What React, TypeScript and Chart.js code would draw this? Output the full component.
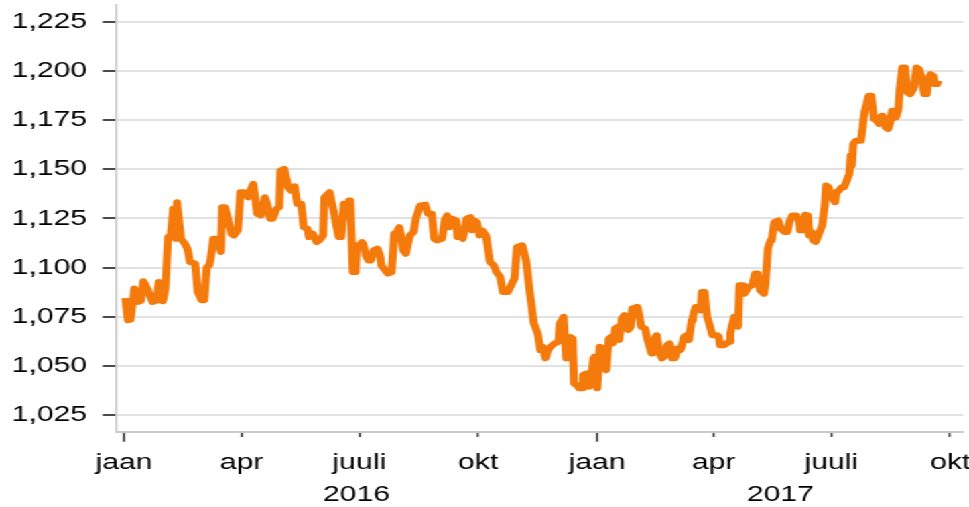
import React, { useEffect, useRef } from 'react';
import { Chart, registerables } from 'chart.js';

Chart.register(...registerables);

// Days since 2016-01-01 and EUR/USD rate
const DAYS = [
  1, 3, 5, 8, 11, 13, 15, 18, 22, 25, 27, 30, 32, 34, 36, 38, 40, 41, 44, 47,
  49, 51, 55, 57, 60, 62, 64, 66, 67, 69, 71, 75, 76, 78, 81, 83, 85, 88, 90, 93,
  96, 97, 100, 101, 103, 106, 109, 111, 113, 115, 118, 120, 121, 124, 127, 129, 132, 134, 137, 139,
  142, 143, 146, 149, 151, 154, 155, 159, 162, 164, 166, 168, 170, 172, 174, 175, 177, 179, 180, 182,
  184, 185, 187, 189, 191, 193, 196, 198, 199, 202, 204, 207, 209, 210, 213, 216, 218, 221, 224, 226,
  229, 233, 235, 238, 240, 242, 246, 248, 250, 252, 254, 257, 258, 260, 262, 265, 268, 269, 271, 273,
  275, 277, 280, 283, 286, 288, 291, 293, 297, 300, 302, 304, 308, 311, 314, 315, 317, 320, 322, 324,
  326, 328, 330, 333, 336, 337, 340, 342, 344, 345, 347, 348, 350, 352, 354, 355, 358, 360, 361, 363,
  364, 366, 368, 371, 373, 375, 377, 378, 380, 382, 383, 385, 387, 389, 390, 392, 393, 397, 398, 400,
  403, 405, 408, 409, 411, 412, 414, 416, 418, 420, 422, 424, 426, 428, 430, 431, 433, 435, 437, 439,
  440, 442, 444, 446, 447, 449, 451, 453, 455, 459, 460, 461, 464, 466, 468, 469, 470, 472, 475, 476,
  479, 480, 483, 486, 488, 490, 492, 495, 496, 498, 500, 501, 503, 506, 508, 511, 513, 515, 517, 520,
  522, 523, 526, 527, 529, 530, 532, 533, 535, 537, 539, 540, 542, 543, 545, 546, 549, 550, 551, 553,
  555, 557, 559, 561, 562, 563, 564, 566, 570, 572, 573, 576, 578, 580, 582, 584, 586, 587, 589, 591,
  593, 594, 596, 597, 599, 600, 602, 604, 606, 608, 609, 611, 613, 615, 617, 619, 621, 622, 624, 626,
  627, 629, 630,
];

const RATES = [
  1.0845, 1.0732, 1.0735, 1.0893, 1.0825, 1.083, 1.093, 1.0893, 1.0825, 1.083, 1.0926, 1.0828, 1.0893, 1.1155, 1.1155, 1.1299, 1.1146, 1.1332, 1.1146, 1.1121,
  1.1096, 1.1028, 1.102, 1.0876, 1.0834, 1.0834, 1.1, 1.1011, 1.1045, 1.1146, 1.1146, 1.1079, 1.1307, 1.1307, 1.1231, 1.1172, 1.1163, 1.1189, 1.1383, 1.1383,
  1.1357, 1.1383, 1.1425, 1.1425, 1.1273, 1.1265, 1.1357, 1.1315, 1.1248, 1.1248, 1.1299, 1.1307, 1.1493, 1.1501, 1.1408, 1.1391, 1.1413, 1.1324, 1.1324, 1.1205,
  1.1197, 1.1155, 1.1172, 1.1129, 1.1138, 1.1163, 1.1357, 1.1383, 1.129, 1.1222, 1.1155, 1.1155, 1.1324, 1.1256, 1.1341, 1.1341, 1.0977, 1.0977, 1.1113, 1.1104,
  1.1129, 1.1121, 1.1062, 1.1036, 1.1036, 1.1087, 1.1096, 1.1062, 1.1011, 1.0986, 1.0969, 1.0977, 1.1172, 1.1172, 1.1205, 1.1087, 1.107, 1.1163, 1.118, 1.1256,
  1.1315, 1.132, 1.1273, 1.1273, 1.1146, 1.1138, 1.1146, 1.1239, 1.1265, 1.1205, 1.1248, 1.1239, 1.1155, 1.1163, 1.1146, 1.1248, 1.1256, 1.1189, 1.1239, 1.123,
  1.1163, 1.1189, 1.1163, 1.1028, 1.1011, 1.0977, 1.0952, 1.0876, 1.0876, 1.0918, 1.0943, 1.1104, 1.1113, 1.1036, 1.0867, 1.0817, 1.0715, 1.0665, 1.058, 1.0597,
  1.0538, 1.058, 1.0597, 1.0614, 1.0622, 1.0715, 1.0749, 1.0538, 1.0538, 1.0647, 1.0639, 1.0411, 1.0403, 1.0386, 1.0386, 1.0453, 1.0462, 1.0394, 1.0403, 1.0538,
  1.0547, 1.0386, 1.0597, 1.0588, 1.0478, 1.0639, 1.0647, 1.0614, 1.069, 1.0699, 1.0631, 1.0741, 1.0758, 1.0741, 1.0682, 1.0699, 1.0792, 1.08, 1.0775, 1.0699,
  1.069, 1.0631, 1.0563, 1.0563, 1.0647, 1.0656, 1.0571, 1.0538, 1.0547, 1.0605, 1.0614, 1.0538, 1.0538, 1.0588, 1.058, 1.0588, 1.0647, 1.0656, 1.0631, 1.0732,
  1.0749, 1.0799, 1.08, 1.0782, 1.0876, 1.0876, 1.0749, 1.0707, 1.0656, 1.0656, 1.0647, 1.0605, 1.0605, 1.0614, 1.0622, 1.0665, 1.0699, 1.0749, 1.0699, 1.091,
  1.091, 1.0867, 1.0901, 1.091, 1.0969, 1.0969, 1.0884, 1.0867, 1.091, 1.1096, 1.1138, 1.1138, 1.1231, 1.1239, 1.1197, 1.118, 1.118, 1.1239, 1.1265, 1.1265,
  1.1239, 1.1189, 1.1189, 1.1268, 1.1265, 1.1163, 1.118, 1.1138, 1.113, 1.1163, 1.1197, 1.1214, 1.1315, 1.1417, 1.1408, 1.1375, 1.1341, 1.1332, 1.1383, 1.1391,
  1.1408, 1.1408, 1.1442, 1.1476, 1.1569, 1.1518, 1.1628, 1.1645, 1.1645, 1.1755, 1.1797, 1.1873, 1.1873, 1.1755, 1.1747, 1.173, 1.1772, 1.1772, 1.1713, 1.1704,
  1.1747, 1.1797, 1.1797, 1.1763, 1.1806, 1.1907, 1.2017, 1.2017, 1.189, 1.1882, 1.189, 1.1915, 1.2017, 1.2008, 1.1958, 1.1882, 1.1882, 1.1958, 1.1983, 1.1975,
  1.1933, 1.1933, 1.195,
];

// Axis ticks (days since 2016-01-01)
const MONTH_TICK_DAYS = [0, 91, 182, 274, 366, 456, 547, 639];
const MONTH_LABELS = ['jaan', 'apr', 'juuli', 'okt', 'jaan', 'apr', 'juuli', 'okt'];
const YEAR_LABELS = ['2016', '2017'];
const YEAR_BOUNDARY_DAYS = [366];
const Y_TICKS = [1.025, 1.05, 1.075, 1.1, 1.125, 1.15, 1.175, 1.2, 1.225];

const X_MIN = -6.2;
const X_MAX = 649.1;
const Y_MIN = 1.0165;
const Y_MAX = 1.2335;

const CANVAS_W = 723;
const CANVAS_H = 507;
const STRETCH = 969 / CANVAS_W;

const FONT = { family: "'Liberation Sans', Arial, Helvetica, sans-serif", size: 22.5 };
const TEXT_COLOR = '#000000';
const LINE_COLOR = '#f47a0b';

export default function App() {
  const canvasRef = useRef<HTMLCanvasElement | null>(null);

  useEffect(() => {
    if (!canvasRef.current) return;
    const points = DAYS.map((d, i) => ({ x: d, y: RATES[i] }));
    const bounds = [X_MIN, ...YEAR_BOUNDARY_DAYS, X_MAX];
    const yearCenters = YEAR_LABELS.map((_, i) => (bounds[i] + bounds[i + 1]) / 2);

    const chart = new Chart(canvasRef.current, {
      type: 'line',
      data: {
        datasets: [
          {
            data: points,
            borderColor: LINE_COLOR,
            borderWidth: 6,
            borderJoinStyle: 'round',
            pointRadius: 0,
            tension: 0,
            fill: false,
            xAxisID: 'x',
            yAxisID: 'y',
          },
        ],
      },
      options: {
        responsive: true,
        maintainAspectRatio: false,
        animation: false,
        layout: { padding: { left: 10, right: 4.3, top: 5, bottom: 0 } },
        plugins: { legend: { display: false }, tooltip: { enabled: false } },
        scales: {
          x: {
            type: 'linear',
            position: 'bottom',
            weight: 0,
            min: X_MIN,
            max: X_MAX,
            afterBuildTicks: (s: any) => {
              s.ticks = MONTH_TICK_DAYS.map((v) => ({ value: v }));
            },
            afterFit: (s: any) => {
              s.paddingLeft = 0;
              s.paddingRight = 0;
              s.height = 43.9;
            },
            ticks: {
              autoSkip: false,
              maxRotation: 0,
              minRotation: 0,
              padding: 7.3,
              color: TEXT_COLOR,
              font: FONT,
              callback: (_v: any, i: number) => MONTH_LABELS[i],
            },
            grid: {
              display: true,
              drawOnChartArea: false,
              drawTicks: true,
              tickLength: 10,
              tickWidth: 1.5,
              tickColor: '#333333',
              tickBorderDash: (ctx: any) => (ctx.index % 4 === 0 ? [] : [4, 40]),
            },
            border: { display: true, color: '#cacaca', width: 2 },
          },
          xYear: {
            type: 'linear',
            position: 'bottom',
            weight: 1,
            min: X_MIN,
            max: X_MAX,
            afterBuildTicks: (s: any) => {
              s.ticks = yearCenters.map((v) => ({ value: v }));
            },
            afterFit: (s: any) => {
              s.paddingLeft = 0;
              s.paddingRight = 0;
              s.height = 31.4;
            },
            ticks: {
              autoSkip: false,
              maxRotation: 0,
              minRotation: 0,
              padding: 5.4,
              color: TEXT_COLOR,
              font: FONT,
              callback: (_v: any, i: number) => YEAR_LABELS[i],
            },
            grid: { display: false, drawTicks: false },
            border: { display: false },
          },
          y: {
            type: 'linear',
            position: 'left',
            min: Y_MIN,
            max: Y_MAX,
            afterBuildTicks: (s: any) => {
              s.ticks = Y_TICKS.map((v) => ({ value: v }));
            },
            afterFit: (s: any) => {
              s.width = 76.57;
              s.paddingTop = 0;
              s.paddingBottom = 0;
            },
            ticks: {
              padding: 11.5,
              color: TEXT_COLOR,
              font: FONT,
              callback: (v: any) => Number(v).toFixed(3).replace('.', ','),
            },
            grid: {
              color: '#e2e2e2',
              lineWidth: 2,
              drawTicks: true,
              tickLength: 10,
              tickWidth: 2,
              tickColor: '#4a4a4a',
            },
            border: { display: true, color: '#cacaca', width: 1.5 },
          },
        },
      },
    });
    return () => chart.destroy();
  }, []);

  return (
    <div
      style={{
        position: 'fixed',
        left: 0,
        top: 0,
        width: CANVAS_W,
        height: CANVAS_H,
        transform: `scaleX(${STRETCH})`,
        transformOrigin: '0 0',
        background: '#ffffff',
      }}
    >
      <canvas ref={canvasRef} style={{ display: 'block' }} />
    </div>
  );
}
